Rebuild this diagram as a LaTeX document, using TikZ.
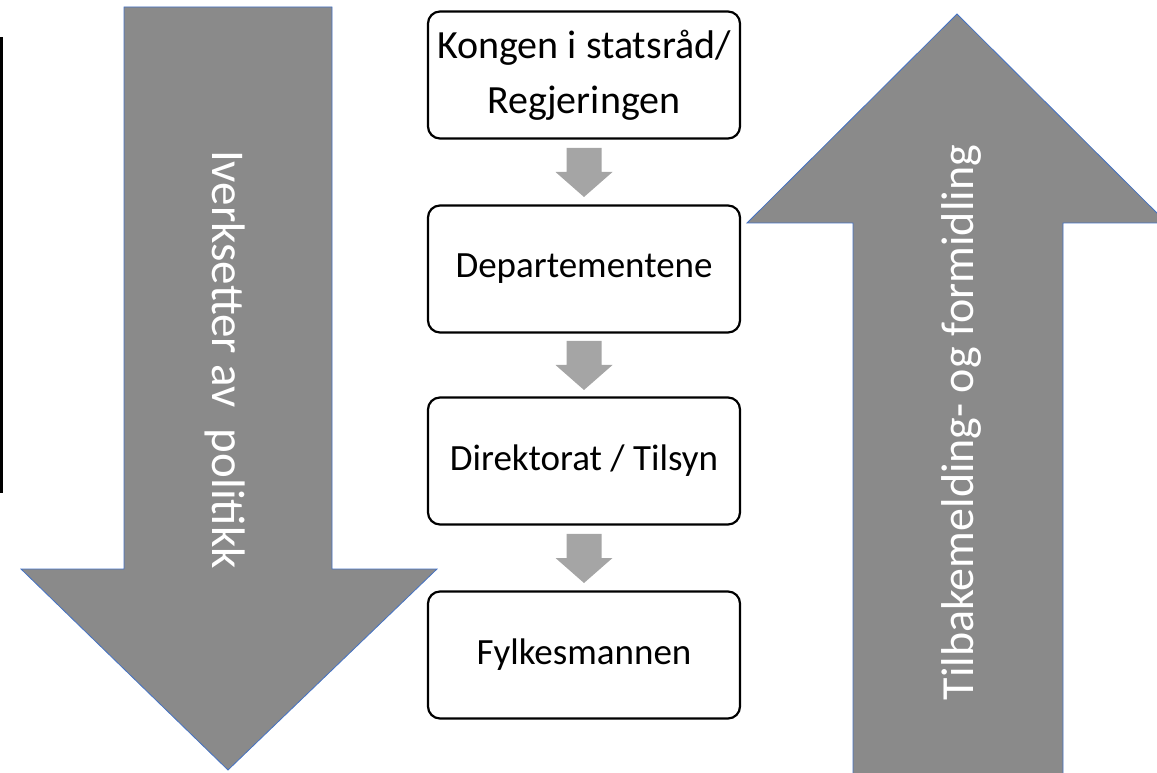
\documentclass[tikz,border=0pt]{standalone}
\usepackage{fontspec}
\setmainfont{Carlito}
\usepackage{tikz}
\usetikzlibrary{calc}

\definecolor{storgraa}{RGB}{138,138,138}
\definecolor{litengraa}{RGB}{165,165,165}
\definecolor{kantblaa}{RGB}{68,114,196}

\tikzset{
	boks/.style={draw=black, line width=2.2pt, rounded corners=12pt, fill=white,
		minimum width=312pt, minimum height=127pt, align=center,
		font=\fontsize{37}{55}\selectfont},
	storpil/.style={fill=storgraa, draw=kantblaa, line width=0.8pt},
	litenpil/.style={fill=litengraa},
	piltekst/.style={text=white, anchor=base, font=\fontsize{46}{46}\selectfont}
}

\begin{document}
\begin{tikzpicture}[x=1pt, y=1pt]
		\clip (0,0) rectangle (1157,772);

		% svart kant til venstre
		\fill[black] (0,279) rectangle (3,735);

		% store piler
		\draw[storpil] (124,765) -- (332,765) -- (332,203) -- (437,203)
			-- (228,2) -- (21,203) -- (124,203) -- cycle;
		\draw[storpil] (957,758) -- (1167,549) -- (1063,549) -- (1063,-5)
			-- (853,-5) -- (853,549) -- (747,549) -- cycle;
		\draw (212,412.5) node[piltekst, rotate=-90, font=\fontsize{47}{47}\selectfont] (iverk) {Iverksetter av\ \ politikk};
		\draw (973,349.5) node[piltekst, rotate=90] (tilbake) {Tilbakemelding- og formidling};

		% boksene
		\draw (584,697) node[boks, font=\fontsize{40}{55}\selectfont] (kongen) {Kongen i statsråd/\\Regjeringen};
		\draw (584,503) node[boks] (dep) {Departementene};
		\draw (584,311) node[boks] (dir) {Direktorat / Tilsyn};
		\draw (584,117) node[boks] (fylke) {Fylkesmannen};

		% små piler mellom boksene
		\foreach \fra/\til in {kongen/dep, dep/dir, dir/fylke}
			\fill[litenpil] ($(\fra.south)!0.5!(\til.north)$) ++(-17.5,24) -- ++(35,0)
				-- ++(0,-24) -- ++(11,0) -- ++(-28.5,-25) -- ++(-28.5,25) -- ++(11,0) -- cycle;
	\end{tikzpicture}
\end{document}
